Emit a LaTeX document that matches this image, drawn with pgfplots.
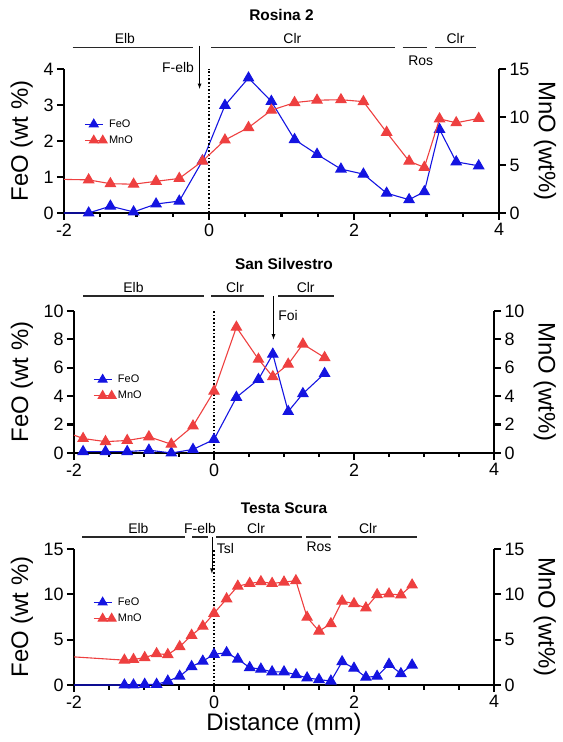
\documentclass[border=0pt]{standalone}
\usepackage{pgfplots}
\pgfplotsset{compat=1.18}
\usepackage{fontspec}
\setmainfont{Liberation Sans}
\definecolor{feo}{RGB}{20,20,225}
\definecolor{mno}{RGB}{238,64,64}
\definecolor{hdr}{RGB}{40,40,40}
\newcommand{\ttl}{\fontsize{15.5}{17}\selectfont\bfseries}
\newcommand{\hfont}{\fontsize{14}{16}\selectfont}
\tikzset{hdrline/.style={draw=hdr, line width=1.5bp}, tk/.style={draw=black, line width=2.2bp}}
\pgfplotsset{
  base/.style={scale only axis, xmin=-2, xmax=4, ymin=0,
    axis line style={line width=2bp, -},
    every tick/.append style={line width=2.2bp, black},
    xtick align=outside, ytick align=outside,
    major tick length=7bp, minor tick length=4.5bp,
    tick label style={font=\fontsize{18}{20}\selectfont},
    label style={font=\fontsize{24}{26}\selectfont},
    /pgf/number format/assume math mode=true,
    clip=false,
  },
  leftax/.style={base, axis x line*=bottom, axis y line*=left, xtick={-2,0,2,4},
    ylabel={FeO (wt \%)}},
  rightax/.style={base, axis x line=none, axis y line*=right, ylabel={MnO (wt\%)},
    legend style={draw=none, fill=none, inner sep=0pt, font=\fontsize{11}{12}\selectfont, row sep=3bp},
    legend cell align=left,
    legend image code/.code={\draw[##1, mark repeat=2, mark phase=2, mark size=5bp] plot coordinates {(0bp,0bp) (9bp,0bp) (18bp,0bp)};}},
  feostyle/.style={color=feo, line width=1.1bp, mark=triangle*, mark size=5.8bp, mark options={solid, fill=feo}},
  mnostyle/.style={color=mno, line width=1.1bp, mark=triangle*, mark size=5.8bp, mark options={solid, fill=mno}},
}
\newcommand{\xticks}{%
  \pgfplotsinvokeforeach{-2,0,2,4}{\draw[tk] (axis cs:##1,0) -- ++(0pt,-7bp);}%
  \pgfplotsinvokeforeach{-1.5,-1,-0.5,0.5,1,1.5,2.5,3,3.5}{\draw[tk] (axis cs:##1,0) -- ++(0pt,-4.5bp);}}
\newcommand{\lticks}[1]{\pgfplotsinvokeforeach{#1}{\draw[tk] (axis cs:-2,##1) -- ++(-7bp,0pt);}}
\newcommand{\rticks}[1]{\pgfplotsinvokeforeach{#1}{\draw[tk] (axis cs:4,##1) -- ++(7bp,0pt);}}
\begin{document}
\begin{tikzpicture}
\useasboundingbox (0,0) rectangle (563bp,742bp);
% ---------------- Panel 1: Rosina 2
\begin{axis}[leftax, at={(64bp,529bp)}, anchor=south west, width=435bp, height=144bp,
  ymax=4, ytick={0,1,2,3,4},
  ylabel style={at={(axis description cs:-0.097,0.5)}, anchor=center}]
\xticks \lticks{0,1,2,3,4}
\addplot[feostyle, mark indices={2,...,40}] coordinates {
(-2,0) (-1.66,0.0) (-1.36,0.19) (-1.04,0.03) (-0.73,0.25) (-0.41,0.33) (-0.09,1.45)
(0.22,2.99) (0.545,3.75) (0.86,3.10) (1.18,2.04) (1.49,1.63) (1.82,1.22) (2.13,1.08)
(2.45,0.55) (2.76,0.37) (2.97,0.59) (3.18,2.32) (3.41,1.42) (3.72,1.31)};
\draw[black, line width=1.6bp, dotted] (axis cs:0,0) -- (axis cs:0,4);
\node[font=\ttl] at (axis cs:1,5.5) {Rosina 2};
\draw[hdrline] (axis cs:-1.88,4.6) -- (axis cs:-0.22,4.6);
\draw[hdrline] (axis cs:0.03,4.6) -- (axis cs:2.57,4.6);
\draw[hdrline] (axis cs:2.67,4.6) -- (axis cs:3.01,4.6);
\draw[hdrline] (axis cs:3.12,4.6) -- (axis cs:3.68,4.6);
\node[font=\hfont, anchor=base] at (axis cs:-1.16,4.7) {Elb};
\node[font=\hfont, anchor=base] at (axis cs:1.15,4.7) {Clr};
\node[font=\hfont, anchor=base] at (axis cs:3.40,4.7) {Clr};
\node[font=\hfont] at (axis cs:2.92,4.22) {Ros};
\draw[-latex, line width=0.8bp] (axis cs:-0.13,4.65) -- (axis cs:-0.13,3.45);
\node[font=\hfont, anchor=east] at (axis cs:-0.16,4.05) {F-elb};
\end{axis}
\begin{axis}[rightax, at={(64bp,529bp)}, anchor=south west, width=435bp, height=144bp,
  ymax=15, ytick={0,5,10,15},
  ylabel style={at={(axis description cs:1.106,0.5)}, anchor=center, rotate=180},
  legend style={at={(axis description cs:0.046,0.56)}, anchor=west}]
\rticks{0,5,10,15}
\addlegendimage{feostyle}
\addlegendentry{FeO}
\addplot[mnostyle, mark indices={2,...,40}] coordinates {
(-2,3.5) (-1.66,3.45) (-1.36,3.05) (-1.04,3.0) (-0.73,3.3) (-0.41,3.6) (-0.09,5.4)
(0.22,7.6) (0.545,8.9) (0.86,10.7) (1.18,11.5) (1.49,11.75) (1.82,11.8) (2.13,11.6)
(2.45,8.4) (2.76,5.4) (2.97,4.75) (3.18,9.8) (3.41,9.4) (3.72,9.85)};
\addlegendentry{MnO}
\end{axis}
% ---------------- Panel 2: San Silvestro
\begin{axis}[leftax, at={(74bp,289bp)}, anchor=south west, width=420bp, height=142bp,
  ymax=10, ytick={0,2,4,6,8,10},
  ylabel style={at={(axis description cs:-0.124,0.5)}, anchor=center}]
\xticks \lticks{0,2,4,6,8,10}
\addplot[feostyle] coordinates {
(-1.87,0.1) (-1.55,0.1) (-1.24,0.1) (-0.93,0.2) (-0.61,0.0) (-0.30,0.25) (0.0,0.95)
(0.32,3.92) (0.635,5.18) (0.84,6.96) (1.06,2.92) (1.27,4.18) (1.58,5.6)};
\draw[black, line width=1.6bp, dotted] (axis cs:0,0) -- (axis cs:0,10);
\node[font=\ttl] at (axis cs:1,13.3) {San Silvestro};
\draw[hdrline] (axis cs:-1.87,11.05) -- (axis cs:-0.15,11.05);
\draw[hdrline] (axis cs:-0.04,11.05) -- (axis cs:0.71,11.05);
\draw[hdrline] (axis cs:0.92,11.05) -- (axis cs:1.72,11.05);
\node[font=\hfont, anchor=base] at (axis cs:-1.15,11.3) {Elb};
\node[font=\hfont, anchor=base] at (axis cs:0.30,11.3) {Clr};
\node[font=\hfont, anchor=base] at (axis cs:1.31,11.3) {Clr};
\draw[-latex, line width=0.8bp] (axis cs:0.85,11.05) -- (axis cs:0.85,8.0);
\node[font=\hfont, anchor=west] at (axis cs:0.87,9.7) {Foi};
\end{axis}
\begin{axis}[rightax, at={(74bp,289bp)}, anchor=south west, width=420bp, height=142bp,
  ymax=10, ytick={0,2,4,6,8,10},
  ylabel style={at={(axis description cs:1.121,0.5)}, anchor=center, rotate=180},
  legend style={at={(axis description cs:0.045,0.46)}, anchor=west}]
\rticks{0,2,4,6,8,10}
\addlegendimage{feostyle}
\addlegendentry{FeO}
\addplot[mnostyle, mark indices={2,...,40}] coordinates {
(-2,1.26) (-1.87,1.02) (-1.55,0.8) (-1.24,0.88) (-0.93,1.14) (-0.61,0.62) (-0.30,1.9)
(0.0,4.35) (0.32,8.86) (0.635,6.6) (0.84,5.37) (1.06,6.25) (1.27,7.67) (1.58,6.72)};
\addlegendentry{MnO}
\end{axis}
% ---------------- Panel 3: Testa Scura
\begin{axis}[leftax, at={(74bp,57bp)}, anchor=south west, width=420bp, height=136bp,
  ymax=15, ytick={0,5,10,15}, xlabel={Distance (mm)},
  xlabel style={at={(axis description cs:0.5,-0.29)}, anchor=center},
  ylabel style={at={(axis description cs:-0.124,0.5)}, anchor=center}]
\xticks \lticks{0,5,10,15}
\addplot[feostyle, mark indices={2,...,40}] coordinates {
(-2,0) (-1.28,0) (-1.15,0) (-0.99,0.07) (-0.82,0.07) (-0.66,0.43) (-0.49,0.96)
(-0.32,2.03) (-0.16,2.63) (0.0,3.38) (0.18,3.56) (0.34,2.85) (0.51,1.92) (0.67,1.75)
(0.83,1.45) (1.0,1.45) (1.17,1.14) (1.33,0.78) (1.5,0.6) (1.67,0.43) (1.83,2.56)
(2.0,1.85) (2.17,0.85) (2.33,0.96) (2.5,2.28) (2.67,1.25) (2.83,2.2)};
\draw[black, line width=1.6bp, dotted] (axis cs:0,0) -- (axis cs:0,15);
\node[font=\ttl] at (axis cs:1,19.45) {Testa Scura};
\draw[hdrline] (axis cs:-1.88,16.35) -- (axis cs:-0.41,16.35);
\draw[hdrline] (axis cs:-0.31,16.35) -- (axis cs:-0.08,16.35);
\draw[hdrline] (axis cs:0.03,16.35) -- (axis cs:1.26,16.35);
\draw[hdrline] (axis cs:1.32,16.35) -- (axis cs:1.67,16.35);
\draw[hdrline] (axis cs:1.77,16.35) -- (axis cs:2.90,16.35);
\node[font=\hfont, anchor=base] at (axis cs:-1.08,16.7) {Elb};
\node[font=\hfont, anchor=base] at (axis cs:-0.20,16.7) {F-elb};
\node[font=\hfont, anchor=base] at (axis cs:0.60,16.7) {Clr};
\node[font=\hfont, anchor=base] at (axis cs:2.20,16.7) {Clr};
\node[font=\hfont] at (axis cs:1.50,15.3) {Ros};
\draw[-latex, line width=0.8bp] (axis cs:-0.03,16.35) -- (axis cs:-0.03,12.3);
\node[font=\hfont, anchor=west] at (axis cs:-0.01,15.0) {Tsl};
\end{axis}
\begin{axis}[rightax, at={(74bp,57bp)}, anchor=south west, width=420bp, height=136bp,
  ymax=15, ytick={0,5,10,15},
  ylabel style={at={(axis description cs:1.121,0.5)}, anchor=center, rotate=180},
  legend style={at={(axis description cs:0.045,0.548)}, anchor=west}]
\rticks{0,5,10,15}
\addlegendimage{feostyle}
\addlegendentry{FeO}
\addplot[mnostyle, mark indices={2,...,40}] coordinates {
(-2,3.1) (-1.28,2.74) (-1.15,2.81) (-0.99,3.02) (-0.82,3.45) (-0.66,3.35) (-0.49,4.23)
(-0.32,5.48) (-0.16,6.48) (0.0,7.9) (0.18,9.5) (0.34,10.9) (0.51,11.2) (0.67,11.39)
(0.83,11.2) (1.0,11.35) (1.17,11.5) (1.33,7.47) (1.5,5.94) (1.67,6.76) (1.83,9.25)
(2.0,8.97) (2.17,8.5) (2.33,9.96) (2.5,10.04) (2.67,9.93) (2.83,11.03)};
\addlegendentry{MnO}
\end{axis}
\end{tikzpicture}
\end{document}
